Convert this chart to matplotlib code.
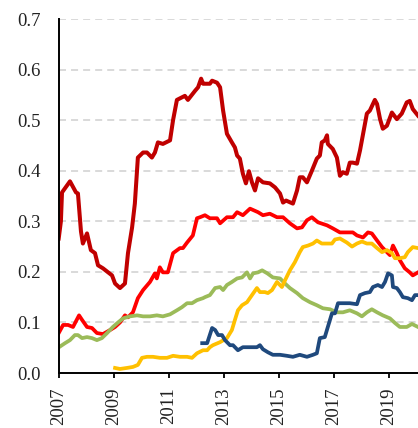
import matplotlib
matplotlib.use("Agg")
import matplotlib.pyplot as plt

plt.rcParams['font.family'] = ['Liberation Serif', 'DejaVu Serif']

# ---- data (decimal years, values) ----
darkred_x = [2007.00, 2007.08, 2007.12, 2007.41, 2007.63, 2007.70, 2007.81, 2007.88, 2008.03, 2008.17,
             2008.32, 2008.43, 2008.61, 2008.94, 2009.05, 2009.23, 2009.41, 2009.52, 2009.67, 2009.77,
             2009.88, 2010.07, 2010.21, 2010.39, 2010.50, 2010.61, 2010.79, 2011.05, 2011.16, 2011.30,
             2011.48, 2011.59, 2011.70, 2011.96, 2012.07, 2012.18, 2012.25, 2012.32, 2012.50, 2012.58,
             2012.76, 2012.87, 2012.98, 2013.12, 2013.30, 2013.41, 2013.49, 2013.59, 2013.70, 2013.81,
             2013.92, 2014.03, 2014.14, 2014.25, 2014.43, 2014.68, 2014.87, 2015.05, 2015.16, 2015.27,
             2015.52, 2015.67, 2015.77, 2015.88, 2016.03, 2016.21, 2016.39, 2016.50, 2016.57, 2016.68,
             2016.76, 2016.79, 2016.97, 2017.12, 2017.23, 2017.34, 2017.48, 2017.59, 2017.70, 2017.85,
             2017.96, 2018.21, 2018.32, 2018.50, 2018.58, 2018.69, 2018.79, 2018.94, 2019.12, 2019.30,
             2019.48, 2019.66, 2019.77, 2019.88, 2020.07]
darkred_y = [0.266, 0.300, 0.357, 0.379, 0.357, 0.355, 0.280, 0.256, 0.276, 0.243,
             0.237, 0.213, 0.207, 0.193, 0.177, 0.168, 0.177, 0.237, 0.288, 0.335,
             0.426, 0.436, 0.436, 0.426, 0.436, 0.456, 0.453, 0.460, 0.500, 0.540,
             0.545, 0.548, 0.540, 0.558, 0.565, 0.582, 0.572, 0.572, 0.572, 0.578,
             0.574, 0.565, 0.519, 0.473, 0.456, 0.446, 0.430, 0.424, 0.394, 0.375,
             0.399, 0.377, 0.361, 0.385, 0.377, 0.375, 0.367, 0.355, 0.337, 0.341,
             0.335, 0.361, 0.387, 0.387, 0.377, 0.400, 0.424, 0.430, 0.456, 0.460,
             0.470, 0.453, 0.443, 0.426, 0.390, 0.397, 0.394, 0.416, 0.416, 0.414,
             0.440, 0.513, 0.519, 0.540, 0.532, 0.502, 0.483, 0.489, 0.515, 0.502,
             0.513, 0.535, 0.538, 0.522, 0.509]

red_x = [2007.00, 2007.16, 2007.34, 2007.52, 2007.74, 2007.85, 2008.03, 2008.21, 2008.39, 2008.61,
         2008.87, 2009.05, 2009.23, 2009.41, 2009.52, 2009.70, 2009.88, 2010.07, 2010.32, 2010.50,
         2010.57, 2010.68, 2010.79, 2010.97, 2011.16, 2011.41, 2011.52, 2011.67, 2011.88, 2012.03,
         2012.14, 2012.32, 2012.50, 2012.76, 2012.87, 2013.12, 2013.34, 2013.49, 2013.70, 2013.96,
         2014.25, 2014.43, 2014.68, 2014.94, 2015.16, 2015.41, 2015.67, 2015.85, 2016.03, 2016.21,
         2016.43, 2016.76, 2016.97, 2017.23, 2017.48, 2017.70, 2017.85, 2018.07, 2018.25, 2018.39,
         2018.58, 2018.76, 2018.94, 2019.05, 2019.16, 2019.30, 2019.41, 2019.59, 2019.77, 2019.88,
         2020.07]
red_y = [0.079, 0.095, 0.095, 0.091, 0.114, 0.105, 0.091, 0.089, 0.079, 0.077,
         0.085, 0.091, 0.100, 0.114, 0.110, 0.120, 0.148, 0.164, 0.180, 0.197,
         0.187, 0.209, 0.199, 0.199, 0.237, 0.247, 0.247, 0.258, 0.272, 0.306,
         0.308, 0.312, 0.306, 0.306, 0.296, 0.308, 0.308, 0.318, 0.312, 0.325,
         0.318, 0.312, 0.315, 0.308, 0.308, 0.296, 0.286, 0.288, 0.302, 0.308,
         0.298, 0.292, 0.286, 0.278, 0.278, 0.278, 0.272, 0.268, 0.278, 0.276,
         0.262, 0.249, 0.239, 0.233, 0.252, 0.237, 0.223, 0.207, 0.199, 0.193,
         0.199]

green_x = [2007.01, 2007.23, 2007.41, 2007.59, 2007.70, 2007.85, 2008.03, 2008.21, 2008.39, 2008.57,
           2008.76, 2008.97, 2009.16, 2009.34, 2009.59, 2009.85, 2010.07, 2010.32, 2010.57, 2010.79,
           2011.05, 2011.30, 2011.48, 2011.67, 2011.85, 2012.03, 2012.25, 2012.32, 2012.50, 2012.69,
           2012.87, 2012.98, 2013.12, 2013.30, 2013.49, 2013.67, 2013.85, 2013.96, 2014.07, 2014.25,
           2014.40, 2014.59, 2014.79, 2015.05, 2015.23, 2015.41, 2015.67, 2015.88, 2016.14, 2016.39,
           2016.61, 2016.87, 2017.12, 2017.34, 2017.59, 2017.85, 2018.03, 2018.21, 2018.39, 2018.58,
           2018.79, 2019.05, 2019.23, 2019.41, 2019.66, 2019.85, 2020.07]
green_y = [0.051, 0.059, 0.065, 0.075, 0.075, 0.069, 0.071, 0.069, 0.065, 0.069,
           0.079, 0.091, 0.100, 0.108, 0.112, 0.114, 0.112, 0.112, 0.114, 0.112,
           0.116, 0.124, 0.130, 0.138, 0.138, 0.144, 0.148, 0.150, 0.154, 0.168,
           0.170, 0.164, 0.174, 0.180, 0.187, 0.189, 0.199, 0.187, 0.197, 0.199,
           0.203, 0.197, 0.189, 0.187, 0.177, 0.168, 0.158, 0.148, 0.140, 0.134,
           0.128, 0.126, 0.120, 0.120, 0.124, 0.118, 0.112, 0.120, 0.126, 0.120,
           0.114, 0.108, 0.099, 0.091, 0.091, 0.097, 0.091]

yellow_x = [2009.05, 2009.23, 2009.48, 2009.70, 2009.88, 2010.03, 2010.21, 2010.43, 2010.68, 2010.94,
            2011.16, 2011.41, 2011.67, 2011.85, 2012.03, 2012.25, 2012.40, 2012.50, 2012.61, 2012.87,
            2013.12, 2013.30, 2013.41, 2013.52, 2013.67, 2013.85, 2014.03, 2014.21, 2014.32, 2014.50,
            2014.61, 2014.76, 2014.94, 2015.12, 2015.23, 2015.41, 2015.59, 2015.77, 2015.88, 2016.07,
            2016.25, 2016.39, 2016.57, 2016.76, 2016.94, 2017.05, 2017.23, 2017.48, 2017.67, 2017.85,
            2018.03, 2018.21, 2018.39, 2018.58, 2018.76, 2018.94, 2019.12, 2019.23, 2019.41, 2019.59,
            2019.70, 2019.88, 2020.07]
yellow_y = [0.010, 0.008, 0.010, 0.012, 0.016, 0.030, 0.032, 0.032, 0.030, 0.030,
            0.034, 0.032, 0.032, 0.030, 0.039, 0.045, 0.045, 0.051, 0.055, 0.061,
            0.069, 0.085, 0.105, 0.124, 0.134, 0.140, 0.154, 0.168, 0.160, 0.160,
            0.158, 0.164, 0.180, 0.170, 0.183, 0.203, 0.219, 0.239, 0.249, 0.252,
            0.256, 0.262, 0.256, 0.256, 0.256, 0.264, 0.266, 0.258, 0.250, 0.256,
            0.260, 0.256, 0.256, 0.247, 0.239, 0.243, 0.237, 0.227, 0.227, 0.229,
            0.239, 0.249, 0.247]

blue_x = [2012.22, 2012.40, 2012.58, 2012.69, 2012.80, 2012.94, 2013.05, 2013.23, 2013.34, 2013.52,
          2013.70, 2013.96, 2014.21, 2014.32, 2014.43, 2014.61, 2014.79, 2015.05, 2015.30, 2015.52,
          2015.77, 2016.03, 2016.25, 2016.39, 2016.50, 2016.68, 2016.79, 2016.94, 2017.05, 2017.16,
          2017.34, 2017.59, 2017.85, 2017.96, 2018.14, 2018.32, 2018.43, 2018.61, 2018.76, 2018.87,
          2018.98, 2019.12, 2019.16, 2019.30, 2019.41, 2019.52, 2019.70, 2019.85, 2019.96, 2020.07]
blue_y = [0.059, 0.059, 0.089, 0.085, 0.075, 0.075, 0.065, 0.055, 0.055, 0.045,
          0.051, 0.051, 0.051, 0.055, 0.047, 0.041, 0.036, 0.036, 0.034, 0.032,
          0.036, 0.032, 0.036, 0.039, 0.069, 0.071, 0.091, 0.118, 0.118, 0.138,
          0.138, 0.138, 0.136, 0.154, 0.158, 0.160, 0.170, 0.174, 0.170, 0.180,
          0.197, 0.193, 0.170, 0.168, 0.160, 0.150, 0.148, 0.144, 0.154, 0.154]

yticks = [0.0, 0.1, 0.2, 0.3, 0.4, 0.5, 0.6, 0.7]
xticks = [2007, 2009, 2011, 2013, 2015, 2017, 2019]

# ---- figure ----
fig = plt.figure(figsize=(4.18, 4.28), dpi=100)
ax = fig.add_axes([58.7 / 418, 55 / 428, (418 - 58.7) / 418, 354 / 428])
ax.set_xlim(2007, 2020.07)
ax.set_ylim(0, 0.7)

for v in yticks[1:]:
    ax.axhline(v, color='#D9D9D9', lw=1.4, dashes=(3.6, 2.6), zorder=0)

ax.plot(darkred_x, darkred_y, color='#C00000', lw=2.9, solid_joinstyle='round')
ax.plot(red_x, red_y, color='#FF0000', lw=2.7, solid_joinstyle='round')
ax.plot(green_x, green_y, color='#9BBB59', lw=2.7, solid_joinstyle='round')
ax.plot(yellow_x, yellow_y, color='#FFC000', lw=2.7, solid_joinstyle='round')
ax.plot(blue_x, blue_y, color='#1F497D', lw=2.7, solid_joinstyle='round')

for s in ['top', 'right']:
    ax.spines[s].set_visible(False)
ax.spines['left'].set_linewidth(1.4)
ax.spines['bottom'].set_linewidth(1.4)

ax.set_yticks(yticks)
ax.set_yticklabels([f"{v:.1f}" for v in yticks])
ax.set_xticks(xticks)
ax.set_xticklabels([str(x) for x in xticks], rotation=90)
ax.tick_params(axis='y', length=0, pad=13, labelsize=13.5, labelcolor='#222222')
ax.tick_params(axis='x', length=3.6, width=1.3, pad=7, labelsize=13.5, labelcolor='#222222')

fig.savefig('out.png', dpi=100)
